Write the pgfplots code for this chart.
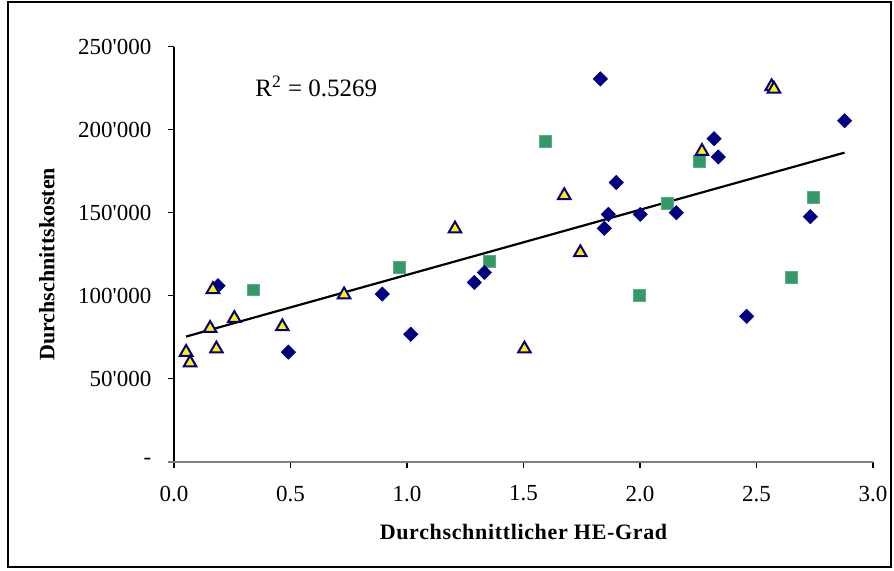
\documentclass[border=0pt]{standalone}
\usepackage{pgfplots}
\pgfplotsset{compat=1.18}
\usepackage{fontspec}
\setmainfont{Liberation Serif}
\definecolor{navy}{HTML}{000080}
\definecolor{seagreen}{HTML}{339966}
\definecolor{axgray}{HTML}{808080}
\begin{document}
\begin{tikzpicture}
\useasboundingbox (-87pt,-54.15pt) rectangle (360pt,230.85pt);
\draw[black, line width=0.6pt] (-83pt,-52.65pt) rectangle (358.5pt,229.85pt);
\begin{axis}[
  at={(0,0)}, anchor=south west,
  scale only axis, width=349.5pt, height=207.5pt,
  xmin=0, xmax=3, ymin=0, ymax=250000,
  axis x line=bottom, axis y line=left,
  axis line style={-},
  x axis line style={draw=none},
  y axis line style={line width=0.6pt},
  tick align=outside, major tick length=3pt,
  tick style={black, line width=0.6pt},
  xtick={0,0.5,1,1.5,2,2.5,3},
  xticklabels={0.0,0.5,1.0,1.5,2.0,2.5,3.0},
  ytick={0,50000,100000,150000,200000,250000},
  yticklabels={-,50\textquotesingle000,100\textquotesingle000,150\textquotesingle000,200\textquotesingle000,250\textquotesingle000},
  scaled y ticks=false,
  xticklabel style={font=\fontsize{11.5}{13}\selectfont, yshift=-5.5pt},
  yticklabel style={font=\fontsize{11.5}{13}\selectfont, xshift=-4.8pt},
  xlabel={\addfontfeature{LetterSpace=3}Durchschnittlicher HE-Grad},
  ylabel={Durchschnittskosten},
  xlabel style={font=\bfseries\fontsize{11}{13}\selectfont, at={(axis description cs:0.5,-0.1687)}, anchor=center},
  ylabel style={font=\bfseries\fontsize{11}{13}\selectfont, at={(axis description cs:-0.1817,0.476)}, anchor=center},
  clip=false,
]
\draw[axgray, line width=1.2pt] ([xshift=-3pt]rel axis cs:0,0) -- (rel axis cs:1,0);
% squares
\addplot[only marks, mark=square*, mark size=2.9pt, mark options={fill=seagreen, draw=seagreen!80!white, line width=0.4pt}] coordinates {
(0.340,103600) (0.967,117000) (1.353,120600) (1.594,192800) (1.997,100200)
(2.117,155600) (2.255,180800) (2.651,111000) (2.744,159200)
};
% diamonds
\addplot[only marks, mark=diamond*, mark size=3.5pt, mark options={fill=navy, draw=navy, xscale=1.333}] coordinates {
(0.189,106000) (0.491,66000) (0.894,101000) (1.016,76800) (1.289,108000)
(1.332,114000) (1.830,230600) (1.847,140600) (1.864,149000) (1.898,168200)
(2.001,149000) (2.156,150000) (2.318,194600) (2.336,183600) (2.458,87600)
(2.731,147600) (2.878,205400)
};
% triangles
\addplot[only marks, mark=triangle*, mark size=3.6pt, mark options={fill=yellow, draw=navy, line width=1pt}] coordinates {
(0.052,66000) (0.069,59600) (0.155,80400) (0.167,103800) (0.182,68000)
(0.259,86400) (0.465,81400) (0.730,100600) (1.206,140300) (1.504,68000)
(1.675,160400) (1.744,126000) (2.266,187000) (2.565,226000) (2.575,224500)
};
% trend line
\addplot[black, line width=1.1pt, no marks] coordinates {(0.052,75400) (2.878,186200)};
\node[anchor=base west, inner sep=0pt, font=\fontsize{12.5}{14}\selectfont] at (axis cs:0.3476,220000) {R\textsuperscript{2} = 0.5269};
\end{axis}
\end{tikzpicture}
\end{document}
